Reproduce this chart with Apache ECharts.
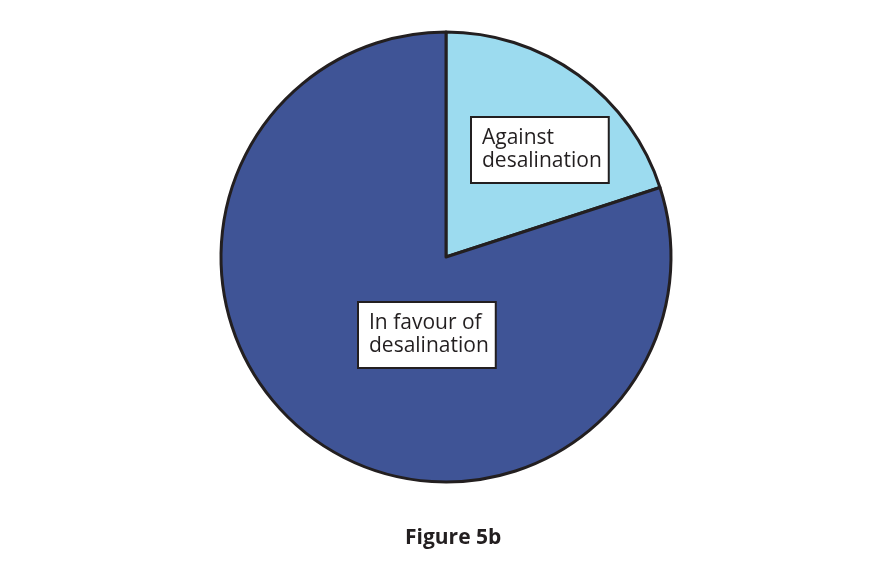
<!DOCTYPE html>
<html>
<head>
<meta charset="utf-8">
<script src="https://cdn.jsdelivr.net/npm/echarts@6/dist/echarts.min.js"></script>
<style>html,body{margin:0;padding:0;background:#fff;}#chart{width:877px;height:565px;}</style>
</head>
<body>
<div id="chart"></div>
<script>
const categories = ['Against\ndesalination', 'In favour of\ndesalination'];
const values = [20, 80];
const colors = ['#9CDBEF', '#3F5496'];
const figureTitle = 'Figure 5b';

const labelAnchors = [[472, 150], [359, 335]];

const chart = echarts.init(document.getElementById('chart'));
chart.setOption({
  animation: false,
  title: {
    text: figureTitle,
    left: 400, top: 523,
    textStyle: { fontFamily: 'Open Sans', fontWeight: 'bold', fontSize: 21, color: '#231F20' }
  },
  series: [{
    type: 'pie',
    center: [446, 257],
    radius: 225,
    startAngle: 90,
    clockwise: true,
    data: categories.map((c, i) => ({ name: c, value: values[i], itemStyle: { color: colors[i] } })),
    itemStyle: { borderColor: '#231F20', borderWidth: 3 },
    label: {
      show: true,
      position: 'inside',
      formatter: '{b}',
      fontFamily: 'Open Sans',
      fontSize: 21,
      lineHeight: 23,
      color: '#231F20',
      align: 'left',
      backgroundColor: '#fff',
      borderColor: '#231F20',
      borderWidth: 2,
      padding: [9, 6, 9, 10]
    },
    labelLayout: function (p) {
      const c = labelAnchors[p.dataIndex];
      return { x: c[0], y: c[1], align: 'left', verticalAlign: 'middle' };
    },
    emphasis: { disabled: true }
  }]
});
</script>
</body>
</html>
